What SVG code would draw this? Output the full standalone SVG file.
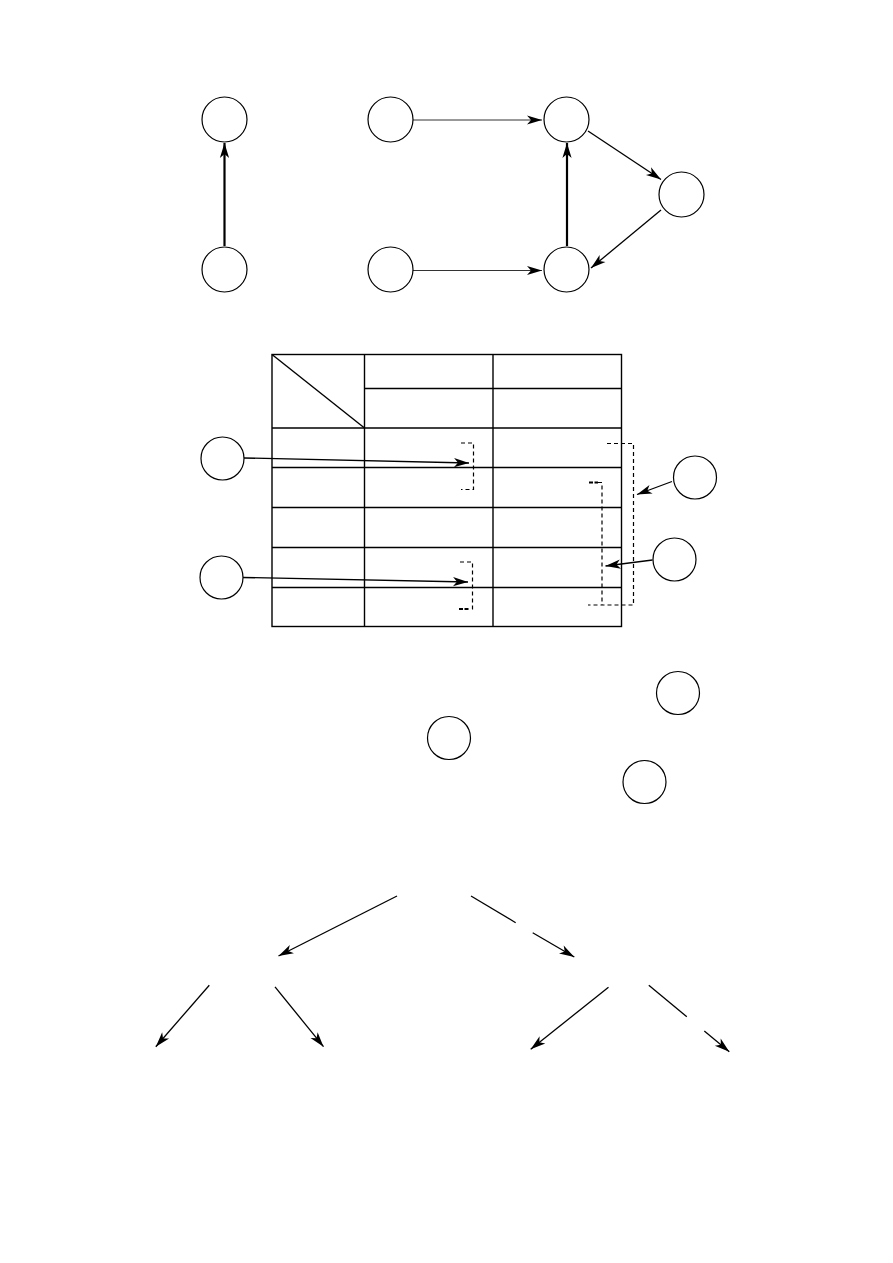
<svg xmlns="http://www.w3.org/2000/svg" width="893" height="1263" viewBox="0 0 893 1263">
<style>
.node{fill:#fff;stroke:#000;stroke-width:1.2}
.tbl{fill:none;stroke:#000;stroke-width:1.4}
.edge{fill:none;stroke:#000;stroke-width:1.3}
.thick{stroke-width:2.2}
.thin{stroke:#333;stroke-width:1}
.dash{fill:none;stroke:#000;stroke-width:1.2;stroke-dasharray:4 3}
.bold{fill:none;stroke:#000;stroke-width:2;stroke-dasharray:4 1.5}
</style>
<defs>
<marker id="ah" markerUnits="userSpaceOnUse" markerWidth="20" markerHeight="12" refX="0" refY="0" orient="auto" overflow="visible">
<path d="M0,0 L-15,-4.6 L-11,0 L-15,4.6 Z" fill="#000"/>
</marker>
</defs>
<rect width="893" height="1263" fill="#fff"/>

<g id="connectors">
<line class="edge thick" x1="224.5" y1="246" x2="224.5" y2="143" marker-end="url(#ah)"/>
<line class="edge thin" x1="413" y1="120" x2="542" y2="120" marker-end="url(#ah)"/>
<line class="edge thin" x1="413" y1="270.5" x2="542" y2="270.5" marker-end="url(#ah)"/>
<line class="edge thick" x1="567" y1="246" x2="567" y2="143" marker-end="url(#ah)"/>
<line class="edge" x1="588" y1="131" x2="661" y2="179.5" marker-end="url(#ah)"/>
<line class="edge" x1="661" y1="210" x2="591" y2="268" marker-end="url(#ah)"/>

<line class="edge" x1="244" y1="458" x2="469" y2="463" marker-end="url(#ah)"/>
<line class="edge" x1="243" y1="577.5" x2="468" y2="582" marker-end="url(#ah)"/>
<line class="edge" x1="672" y1="481.5" x2="637" y2="494.5" marker-end="url(#ah)"/>
<line class="edge" x1="652.5" y1="560" x2="605.5" y2="566" marker-end="url(#ah)"/>

<line class="edge" x1="397" y1="896" x2="278.5" y2="956" marker-end="url(#ah)"/>
<line class="edge" x1="471" y1="896" x2="515.7" y2="922.7"/>
<line class="edge" x1="532.7" y1="932.7" x2="574.3" y2="957" marker-end="url(#ah)"/>
<line class="edge" x1="209.3" y1="985.2" x2="155.8" y2="1046.7" marker-end="url(#ah)"/>
<line class="edge" x1="275" y1="986.8" x2="323.5" y2="1046.7" marker-end="url(#ah)"/>
<line class="edge" x1="608.5" y1="987.3" x2="530.7" y2="1049.2" marker-end="url(#ah)"/>
<line class="edge" x1="648.8" y1="985.2" x2="686.8" y2="1016.7"/>
<line class="edge" x1="704.3" y1="1031" x2="729.3" y2="1051.7" marker-end="url(#ah)"/>
</g>

<g id="table">
<rect class="tbl" x="272" y="354.5" width="349.5" height="272"/>
<line class="tbl" x1="364.5" y1="354.5" x2="364.5" y2="626.5"/>
<line class="tbl" x1="493" y1="354.5" x2="493" y2="626.5"/>
<line class="tbl" x1="364.5" y1="388.5" x2="621.5" y2="388.5"/>
<line class="tbl" x1="272" y1="428" x2="621.5" y2="428"/>
<line class="tbl" x1="272" y1="467.5" x2="621.5" y2="467.5"/>
<line class="tbl" x1="272" y1="507.5" x2="621.5" y2="507.5"/>
<line class="tbl" x1="272" y1="547.5" x2="621.5" y2="547.5"/>
<line class="tbl" x1="272" y1="587.5" x2="621.5" y2="587.5"/>
<line class="tbl" x1="272" y1="354.5" x2="364.5" y2="428"/>
</g>

<g id="brackets">
<path class="dash" d="M461,443 H473.5 V489.5 H461"/>
<path class="dash" d="M460,562 H472.5 V609 H468"/>
<line class="bold" x1="459" y1="609" x2="468" y2="609"/>
<path class="dash" d="M598,482.5 H602 V605"/>
<path class="dash" d="M607,443.5 H633.5 V605 H588"/>
<line class="bold" x1="589" y1="482.5" x2="598" y2="482.5"/>
</g>

<g id="n1"><circle class="node" cx="224.5" cy="119.5" r="22.5"/></g>
<g id="n2"><circle class="node" cx="224.5" cy="269.5" r="22.5"/></g>
<g id="n3"><circle class="node" cx="390.5" cy="119.5" r="22.5"/></g>
<g id="n4"><circle class="node" cx="390.5" cy="269.5" r="22.5"/></g>
<g id="n5"><circle class="node" cx="566.5" cy="119.5" r="22.5"/></g>
<g id="n6"><circle class="node" cx="566.5" cy="269.5" r="22.5"/></g>
<g id="n7"><circle class="node" cx="681.5" cy="194.5" r="22.5"/></g>

<g id="n8"><circle class="node" cx="222.5" cy="458.5" r="21.5"/></g>
<g id="n9"><circle class="node" cx="221.5" cy="577.5" r="21.5"/></g>
<g id="n10"><circle class="node" cx="695" cy="477.5" r="21.5"/></g>
<g id="n11"><circle class="node" cx="674.5" cy="559.5" r="21.5"/></g>

<g id="n12"><circle class="node" cx="449" cy="738" r="21.5"/></g>
<g id="n13"><circle class="node" cx="678" cy="693" r="21.5"/></g>
<g id="n14"><circle class="node" cx="644.5" cy="782" r="21.5"/></g>
</svg>
